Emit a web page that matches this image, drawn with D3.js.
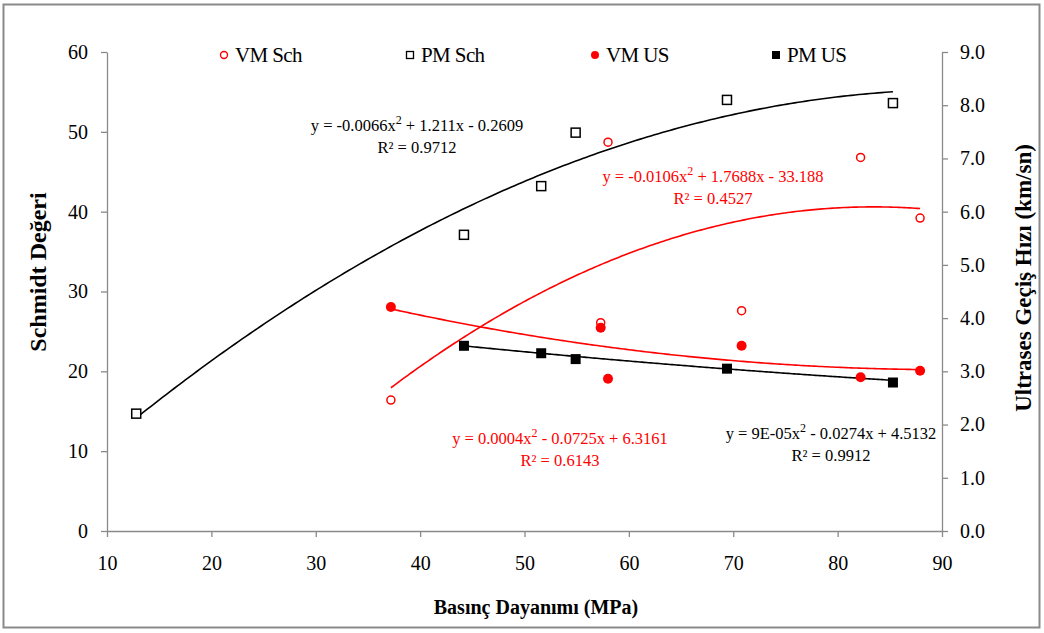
<!DOCTYPE html>
<html><head><meta charset="utf-8">
<script src="https://cdn.jsdelivr.net/npm/d3@7"></script>
<style>
html,body{margin:0;padding:0;background:#fff;}
svg, svg text{font-family:"Liberation Serif","Times New Roman","DejaVu Serif",serif !important;}
</style></head>
<body><svg id="c" width="1044" height="633"></svg>
<script>
// ---- data ----
const pmX   = [12.8, 44.2, 51.6, 54.9, 69.4, 85.3];
const pmSch = [14.7, 37.1, 43.2, 49.9, 54.0, 53.6];
const pmUsX = [44.2, 51.6, 54.9, 69.4, 85.3];
const pmUs  = [3.48, 3.34, 3.23, 3.05, 2.79];
const vmX   = [37.2, 57.3, 58.0, 70.8, 82.2, 87.9];
const vmSch = [16.4, 26.1, 48.7, 27.6, 46.8, 39.2];
const vmUs  = [4.21, 3.82, 2.86, 3.48, 2.89, 3.01];
// trendline coefficients [a, b, c] for y = a x^2 + b x + c
const fitPmSch = [-0.0066, 1.211, -0.2609];
const fitVmSch = [-0.0106, 1.7688, -33.188];
const fitVmUs  = [0.0004, -0.0725, 6.3161];
const fitPmUs  = [0.00009, -0.0274, 4.5132];
const xTicks = [10,20,30,40,50,60,70,80,90];
const yLTicks = [0,10,20,30,40,50,60];
const yRTicks = [0,1,2,3,4,5,6,7,8,9];
const legendLabels = ["VM Sch","PM Sch","VM US","PM US"];

const svg = d3.select("#c");
const RED = "#ff0000";
const GRAY = "#8a8a8a";
const SERIF = '"Liberation Serif","Times New Roman",serif';

// outer frame
svg.append("rect").attr("x",3.5).attr("y",4.5).attr("width",1036).attr("height",623)
  .attr("fill","none").attr("stroke",GRAY).attr("stroke-width",2);

const x  = d3.scaleLinear().domain([10,90]).range([107,942]);
const yL = d3.scaleLinear().domain([0,60]).range([531,52]);
const yR = d3.scaleLinear().domain([0,9]).range([531,52]);

function styleAxis(g){
  g.attr("font-family",SERIF);
  g.selectAll("path,line").attr("stroke",GRAY).attr("stroke-width",1.3);
  g.selectAll("text").style("font-family",SERIF).attr("font-size",20).attr("fill","#000");
}
svg.append("g").attr("transform","translate(0,531)")
  .call(d3.axisBottom(x).tickValues(xTicks).tickSize(6).tickPadding(19).tickSizeOuter(0).tickFormat(d3.format("d")))
  .call(styleAxis);
svg.append("g").attr("transform","translate(107,0)")
  .call(d3.axisLeft(yL).tickValues(yLTicks).tickSize(6).tickPadding(13).tickSizeOuter(0).tickFormat(d3.format("d")))
  .call(styleAxis);
svg.append("g").attr("transform","translate(942,0)")
  .call(d3.axisRight(yR).tickValues(yRTicks).tickSize(6).tickPadding(12).tickSizeOuter(0).tickFormat(d3.format(".1f")))
  .call(styleAxis);

// axis titles
svg.append("text").attr("transform","translate(46,272) rotate(-90)").attr("text-anchor","middle")
  .attr("font-size",24).attr("font-weight","bold").text("Schmidt Değeri");
svg.append("text").attr("transform","translate(1031,278) rotate(-90)").attr("text-anchor","middle")
  .attr("font-size",23).attr("font-weight","bold").text("Ultrases Geçiş Hızı (km/sn)");
svg.append("text").attr("x",536).attr("y",614).attr("text-anchor","middle")
  .attr("font-size",20).attr("font-weight","bold").text("Basınç Dayanımı (MPa)");

// trend lines
function trend(coef, x0, x1, ys, color){
  const xs = d3.range(x0, x1, (x1-x0)/200).concat([x1]);
  const f = v => coef[0]*v*v + coef[1]*v + coef[2];
  svg.append("path").datum(xs)
    .attr("d", d3.line().x(v=>x(v)).y(v=>ys(f(v))))
    .attr("fill","none").attr("stroke",color).attr("stroke-width",1.6);
}
trend(fitPmSch, d3.min(pmX), d3.max(pmX), yL, "#000");
trend(fitVmSch, d3.min(vmX), d3.max(vmX), yL, RED);
trend(fitVmUs,  d3.min(vmX), d3.max(vmX), yR, RED);
trend(fitPmUs,  d3.min(pmUsX), d3.max(pmUsX), yR, "#000");

// markers
function openSquare(g, cx, cy){ g.append("rect").attr("x",cx-4.5).attr("y",cy-4.5).attr("width",9).attr("height",9).attr("fill","#fff").attr("stroke","#000").attr("stroke-width",1.5); }
function openCircle(g, cx, cy){ g.append("circle").attr("cx",cx).attr("cy",cy).attr("r",4).attr("fill","#fff").attr("stroke",RED).attr("stroke-width",1.5); }
function fillCircle(g, cx, cy){ g.append("circle").attr("cx",cx).attr("cy",cy).attr("r",5).attr("fill",RED); }
function fillSquare(g, cx, cy){ g.append("rect").attr("x",cx-5).attr("y",cy-5).attr("width",10).attr("height",10).attr("fill","#000"); }

const mg = svg.append("g");
pmX.forEach((v,i)=>openSquare(mg, x(v), yL(pmSch[i])));
vmX.forEach((v,i)=>openCircle(mg, x(v), yL(vmSch[i])));
vmX.forEach((v,i)=>fillCircle(mg, x(v), yR(vmUs[i])));
pmUsX.forEach((v,i)=>fillSquare(mg, x(v), yR(pmUs[i])));

// legend
const lg = svg.append("g");
const legX = [224, 410, 595, 776];
legendLabels.forEach((t,i)=>{
  const sm = lg.append("g");
  if(i===0){ sm.append("circle").attr("cx",legX[i]).attr("cy",55).attr("r",3.5).attr("fill","#fff").attr("stroke",RED).attr("stroke-width",1.4); }
  else if(i===1){ sm.append("rect").attr("x",legX[i]-3.5).attr("y",51.5).attr("width",7).attr("height",7).attr("fill","#fff").attr("stroke","#000").attr("stroke-width",1.3); }
  else if(i===2){ sm.append("circle").attr("cx",legX[i]).attr("cy",55).attr("r",4).attr("fill",RED); }
  else { sm.append("rect").attr("x",legX[i]-4).attr("y",51).attr("width",8).attr("height",8).attr("fill","#000"); }
  lg.append("text").attr("x",legX[i]+11).attr("y",62).attr("font-size",21).attr("letter-spacing",-0.6).text(t);
});

// equations
function equation(cx, cy, parts, r2, color){
  const t = svg.append("text").attr("x",cx).attr("y",cy).attr("text-anchor","middle").attr("font-size",16.5).attr("fill",color);
  t.append("tspan").text(parts[0]);
  t.append("tspan").attr("dy",-7).attr("font-size",12).text("2");
  t.append("tspan").attr("dy",7).text(parts[1]);
  svg.append("text").attr("x",cx).attr("y",cy+22).attr("text-anchor","middle").attr("font-size",16.5).attr("fill",color).text(r2);
}
equation(417, 131, ["y = -0.0066x", " + 1.211x - 0.2609"], "R² = 0.9712", "#000");
equation(713, 182, ["y = -0.0106x", " + 1.7688x - 33.188"], "R² = 0.4527", RED);
equation(560, 444, ["y = 0.0004x", " - 0.0725x + 6.3161"], "R² = 0.6143", RED);
equation(831, 439, ["y = 9E-05x", " - 0.0274x + 4.5132"], "R² = 0.9912", "#000");
</script></body></html>
